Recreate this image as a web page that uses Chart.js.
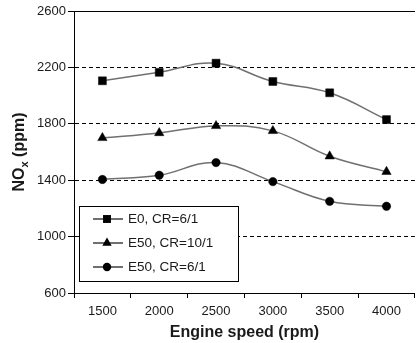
<!DOCTYPE html>
<html>
<head>
<meta charset="utf-8">
<script src="https://cdn.jsdelivr.net/npm/chart.js@4.4.1/dist/chart.umd.min.js"></script>
<style>
  html, body { margin: 0; padding: 0; background: #fff; overflow: hidden; }
  #wrap { width: 421px; height: 343px; position: relative; }
</style>
</head>
<body>
<div id="wrap"><canvas id="c"></canvas></div>
<script>
// Engine speed categories (rpm)
const engineSpeeds = ['1500', '2000', '2500', '3000', '3500', '4000'];
// NOx emissions (ppm) for each fuel / compression ratio
const noxE0CR6   = [2105, 2165, 2230, 2100, 2020, 1830];
const noxE50CR10 = [1700, 1735, 1785, 1750, 1570, 1460];
const noxE50CR6  = [1405, 1435, 1525, 1390, 1250, 1215];
const seriesLabels = ['E0, CR=6/1', 'E50, CR=10/1', 'E50, CR=6/1'];
const seriesMarkers = ['rect', 'triangle', 'circle'];
const markerRadii = [5.6, 5.4, 4.2];
const yTickValues = [600, 1000, 1400, 1800, 2200, 2600];
const xTitle = 'Engine speed (rpm)';

const INK = '#1a1a1a';
const LINE = '#707070';

function markerPoint(ctx, style, r, x, y) {
  ctx.beginPath();
  if (style === 'rect') {
    const s = r * Math.SQRT1_2;
    ctx.rect(x - s, y - s, 2 * s, 2 * s);
  } else if (style === 'triangle') {
    ctx.moveTo(x, y - r);
    ctx.lineTo(x + r * Math.sin(Math.PI / 3), y + r * 0.5);
    ctx.lineTo(x - r * Math.sin(Math.PI / 3), y + r * 0.5);
    ctx.closePath();
  } else {
    ctx.arc(x, y, r, 0, Math.PI * 2);
  }
  ctx.fill();
}

// Axis title with subscript, legend box and top frame line
const decorations = {
  id: 'decorations',
  afterDraw(chart) {
    const ctx = chart.ctx;
    const area = chart.chartArea;
    ctx.save();

    // top frame line
    ctx.strokeStyle = '#000';
    ctx.lineWidth = 1;
    ctx.setLineDash([]);
    ctx.beginPath();
    ctx.moveTo(area.left, Math.round(area.top) + 0.5);
    ctx.lineTo(area.right, Math.round(area.top) + 0.5);
    ctx.stroke();

    // y axis title: NOx (ppm), x as subscript
    const big = 'bold 16px "Liberation Sans", Arial, sans-serif';
    const small = 'bold 11px "Liberation Sans", Arial, sans-serif';
    ctx.fillStyle = INK;
    ctx.textBaseline = 'alphabetic';
    ctx.font = big; const w1 = ctx.measureText('NO').width;
    ctx.font = small; const w2 = ctx.measureText('x').width;
    ctx.font = big; const w3 = ctx.measureText(' (ppm)').width;
    const total = w1 + w2 + w3;
    const cy = (area.top + area.bottom) / 2;
    ctx.translate(24, cy);
    ctx.rotate(-Math.PI / 2);
    let tx = -total / 2;
    ctx.font = big; ctx.textAlign = 'left';
    ctx.fillText('NO', tx, 0); tx += w1;
    ctx.font = small; ctx.fillText('x', tx, 4); tx += w2;
    ctx.font = big; ctx.fillText(' (ppm)', tx, 0);
    ctx.setTransform(1, 0, 0, 1, 0, 0);

    // x axis title
    ctx.font = big;
    ctx.textAlign = 'center';
    ctx.textBaseline = 'middle';
    ctx.fillText(xTitle, (area.left + area.right) / 2, 333);

    // legend box
    const bx = 79.5, by = 206.5, bw = 159, bh = 75;
    ctx.fillStyle = '#fff';
    ctx.fillRect(bx, by, bw, bh);
    ctx.strokeStyle = '#000';
    ctx.lineWidth = 1;
    ctx.strokeRect(bx, by, bw, bh);
    const rows = [219, 243, 267];
    chart.data.datasets.forEach((ds, i) => {
      const y = rows[i];
      ctx.strokeStyle = '#222';
      ctx.lineWidth = 1.3;
      ctx.beginPath();
      ctx.moveTo(93, y);
      ctx.lineTo(123, y);
      ctx.stroke();
      ctx.fillStyle = '#000';
      markerPoint(ctx, ds.pointStyle, ds.pointRadius, 107, y);
      ctx.fillStyle = INK;
      ctx.font = '13.5px "Liberation Sans", Arial, sans-serif';
      ctx.textAlign = 'left';
      ctx.textBaseline = 'middle';
      ctx.fillText(ds.label, 128, y + 0.5);
    });
    ctx.restore();
  }
};

const seriesData = [noxE0CR6, noxE50CR10, noxE50CR6];

new Chart(document.getElementById('c'), {
  type: 'line',
  data: {
    labels: engineSpeeds,
    datasets: seriesData.map((vals, i) => ({
      label: seriesLabels[i],
      data: vals,
      borderColor: LINE,
      borderWidth: 1.5,
      tension: 0.4,
      fill: false,
      pointStyle: seriesMarkers[i],
      pointRadius: markerRadii[i],
      pointBackgroundColor: '#000',
      pointBorderColor: '#000',
      pointBorderWidth: 0.5
    }))
  },
  options: {
    responsive: true,
    maintainAspectRatio: false,
    animation: false,
    devicePixelRatio: 1,
    layout: { padding: { top: 11, right: 2, left: 0, bottom: 0 } },
    plugins: { legend: { display: false }, tooltip: { enabled: false } },
    scales: {
      x: {
        type: 'category',
        offset: true,
        afterFit(s) { s.height = 50; },
        grid: {
          offset: true,
          drawOnChartArea: false,
          drawTicks: true,
          tickLength: 5,
          color: '#000',
          tickColor: '#000'
        },
        border: { display: true, color: '#000', width: 1 },
        ticks: {
          color: INK,
          font: { family: '"Liberation Sans", Arial, sans-serif', size: 13 },
          padding: 6,
          maxRotation: 0
        }
      },
      y: {
        min: 600,
        max: 2600,
        afterFit(s) { s.width = 74; },
        afterBuildTicks(s) { s.ticks = yTickValues.map(v => ({ value: v })); },
        grid: {
          drawTicks: true,
          tickLength: 6,
          color: c => (c.tick && c.tick.value === 600) ? 'rgba(0,0,0,0)' : '#000',
          tickColor: '#000',
          lineWidth: 1
        },
        border: {
          display: true,
          color: '#000',
          width: 1,
          dash: c => (c.tick && c.tick.value === 2600) ? [] : [4, 3]
        },
        ticks: {
          color: INK,
          font: { family: '"Liberation Sans", Arial, sans-serif', size: 13 },
          padding: 2,
          callback: v => String(v)
        }
      }
    }
  },
  plugins: [decorations]
});
</script>
</body>
</html>
